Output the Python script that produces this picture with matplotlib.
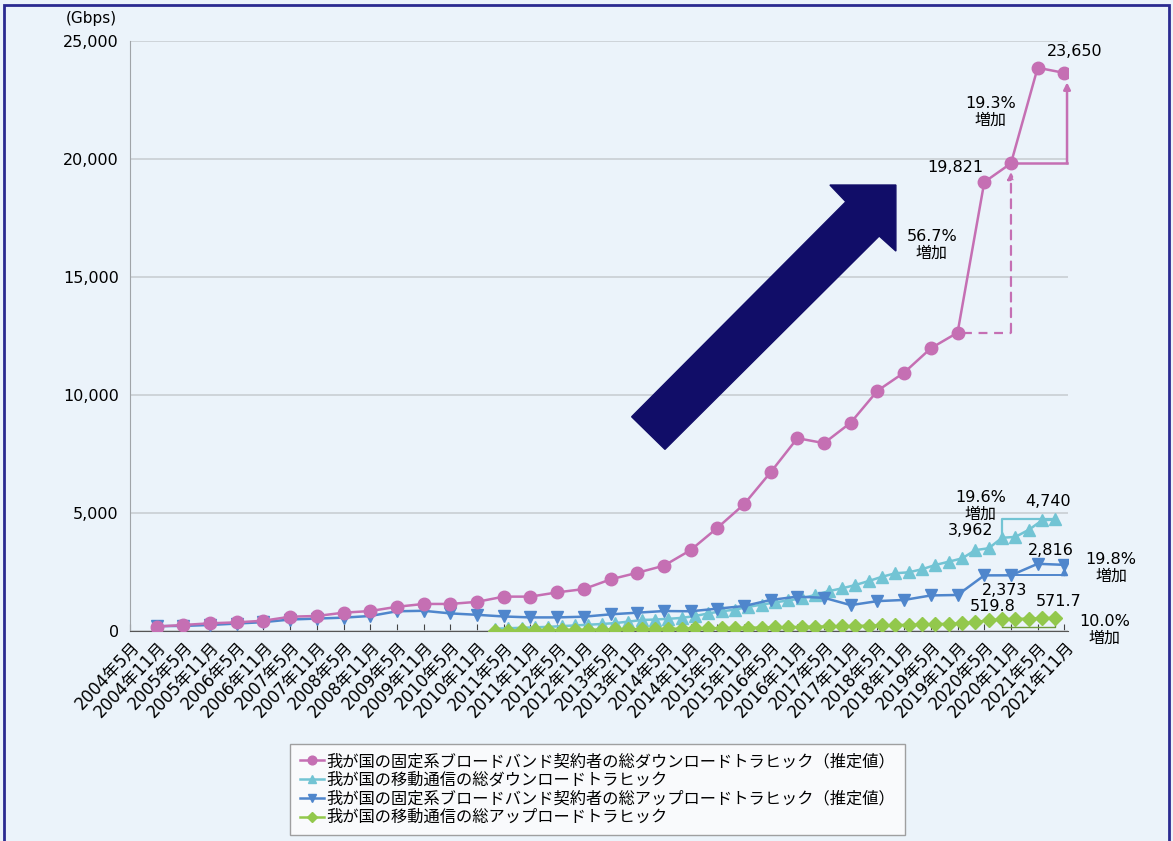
import matplotlib
matplotlib.use("Agg")
import matplotlib.pyplot as plt
from matplotlib.patches import Polygon, Rectangle

plt.rcParams['font.family'] = ['DejaVu Sans', 'Noto Sans CJK JP']

# 半年ごとの目盛ラベル (2004年5月〜2021年11月)
period_labels = [f"{y}年{m}月" for y in range(2004, 2022) for m in (5, 11)]

# 固定系ブロードバンド (2004年11月〜2021年11月, 半年ごと)
fixed_down = [200, 270, 340, 380, 450, 620, 650, 790, 860, 1040,
              1160, 1160, 1250, 1470, 1470, 1650, 1790, 2200, 2480, 2780,
              3440, 4380, 5380, 6740, 8180, 7970, 8840, 10190, 10960, 11990,
              12650, 19025, 19821, 23869, 23650]
fixed_up = [220, 230, 270, 330, 390, 500, 540, 580, 650, 850,
            870, 760, 700, 630, 590, 590, 620, 720, 790, 860,
            850, 960, 1070, 1330, 1470, 1420, 1110, 1280, 1330, 1520,
            1540, 2370, 2373, 2860, 2816]

# 移動通信 (2011年3月〜2021年9月, 四半期ごと)
mobile_months = [(y, m) for y in range(2011, 2022) for m in (3, 6, 9, 12)][:43]
mobile_down = [110, 130, 150, 170, 190, 220, 250, 280, 310, 350,
               410, 480, 500, 530, 570, 650, 760, 850, 920, 1040,
               1130, 1230, 1310, 1400, 1540, 1700, 1820, 1960, 2130, 2310,
               2460, 2500, 2630, 2810, 2950, 3090, 3440, 3520, 3962, 4000,
               4300, 4700, 4740]
mobile_up = [30, 35, 40, 46, 52, 58, 64, 70, 76, 82,
             88, 95, 101, 108, 115, 122, 130, 138, 146, 154,
             162, 170, 179, 188, 198, 208, 218, 229, 240, 252,
             264, 276, 290, 305, 320, 336, 400, 460, 519.8, 525,
             540, 555, 571.7]

series_names = [
    "我が国の固定系ブロードバンド契約者の総ダウンロードトラヒック（推定値）",
    "我が国の移動通信の総ダウンロードトラヒック",
    "我が国の固定系ブロードバンド契約者の総アップロードトラヒック（推定値）",
    "我が国の移動通信の総アップロードトラヒック",
]

PINK = '#c56fb3'
CYAN = '#72c4d4'
BLUE = '#4f86cc'
GREEN = '#92c84c'
BG = '#ebf3fa'

x_fixed = list(range(1, len(fixed_down) + 1))
x_mobile = [((y - 2004) * 12 + (m - 5)) / 6 for y, m in mobile_months]

fig = plt.figure(figsize=(11.73, 8.41), dpi=100, facecolor=BG)
ax = fig.add_axes([0.1108, 0.2493, 0.80, 0.7019])
ax.set_facecolor(BG)

ax.plot(x_fixed, fixed_down, color=PINK, marker='o', ms=9, lw=1.8, label=series_names[0], zorder=5)
ax.plot(x_mobile, mobile_down, color=CYAN, marker='^', ms=8.5, lw=1.8, label=series_names[1], zorder=4)
ax.plot(x_fixed, fixed_up, color=BLUE, marker='v', ms=9, lw=1.8, label=series_names[2], zorder=4.5)
ax.plot(x_mobile, mobile_up, color=GREEN, marker='D', ms=7, lw=1.8, label=series_names[3], zorder=4)

ax.set_xlim(0, 35.15)
ax.set_ylim(0, 25000)
ax.set_yticks(range(0, 25001, 5000))
ax.set_yticklabels([f"{v:,}" for v in range(0, 25001, 5000)], fontsize=11.5)
ax.grid(axis='y', color='#c9ced3', lw=1.2)
ax.set_axisbelow(True)
ax.tick_params(axis='y', length=0, pad=8)
ax.set_xticks(range(len(period_labels)))
ax.set_xticklabels(period_labels, rotation=47, ha='right', rotation_mode='anchor', fontsize=12)
ax.tick_params(axis='x', direction='in', length=5, color='#444', pad=5)
for s in ('top', 'right'):
    ax.spines[s].set_visible(False)
ax.spines['left'].set_color('#a0a4a8')
ax.spines['bottom'].set_color('#555')

fig.text(91 / 1173, 1 - 18 / 841, "(Gbps)", fontsize=11, ha='center', va='center')

# 増加率の矢印
ax.plot([31.2, 33], [fixed_down[30], fixed_down[30]], color=PINK, lw=1.6, ls=(0, (4, 3)), zorder=3)
ax.annotate("", xy=(33, 19450), xytext=(33, fixed_down[30]),
            arrowprops=dict(arrowstyle='-|>', color=PINK, lw=1.6, ls=(0, (4, 3)), shrinkA=0, shrinkB=0))
ax.plot([33, 35.1], [fixed_down[32], fixed_down[32]], color=PINK, lw=1.8, zorder=3, clip_on=False)
ax.annotate("", xy=(35.1, 23250), xytext=(35.1, fixed_down[32]),
            arrowprops=dict(arrowstyle='-|>', color=PINK, lw=1.8, shrinkA=0, shrinkB=0), annotation_clip=False)
ax.plot([x_mobile[38], x_mobile[38], x_mobile[42]], [mobile_down[38], mobile_down[42], mobile_down[42]],
        color=CYAN, lw=1.6, zorder=3)
ax.plot([33, 35], [fixed_up[32], fixed_up[32]], color=BLUE, lw=1.4, zorder=3)
ax.annotate("", xy=(35, 2700), xytext=(35, fixed_up[32]),
            arrowprops=dict(arrowstyle='-|>', color=BLUE, lw=1.4, shrinkA=0, shrinkB=0))
ax.plot([x_mobile[38], x_mobile[38], x_mobile[42], x_mobile[42]], [380, 200, 200, 380],
        color='#6e9a3a', lw=1.0, zorder=2)

txt = dict(fontsize=11.5, ha='center', va='center', linespacing=1.15, zorder=6)
ax.text(35.4, 24550, "23,650", **txt, clip_on=False)
ax.text(32.25, 22000, "19.3%\n増加", **txt)
ax.text(30.9, 19630, "19,821", **txt)
ax.text(30.04, 16370, "56.7%\n増加", **txt)
ax.text(31.87, 5300, "19.6%\n増加", **txt)
ax.text(34.4, 5490, "4,740", **txt)
ax.text(31.5, 4290, "3,962", **txt)
ax.text(34.5, 3440, "2,816", **txt)
ax.text(36.75, 2680, "19.8%\n増加", **txt, clip_on=False)
ax.text(32.77, 1750, "2,373", **txt)
ax.text(32.33, 1040, "519.8", **txt)
ax.text(34.77, 1250, "571.7", **txt)
ax.text(36.5, 50, "10.0%\n増加", **txt, clip_on=False)

# 右上がりの大きな矢印
arrow_pts = [(0.5346, 0.3635), (0.7629, 0.7278), (0.7459, 0.7561), (0.8162, 0.7561),
             (0.8162, 0.6442), (0.7984, 0.6697), (0.5701, 0.3083)]
ax.add_patch(Polygon(arrow_pts, closed=True, transform=ax.transAxes, color='#110d68', zorder=7))

leg = fig.legend(loc='lower left', bbox_to_anchor=(290 / 1173, 6 / 841), fontsize=11.7,
                 frameon=True, fancybox=False, edgecolor='#8a8a8a', facecolor='#fdfdfd',
                 handlelength=1.5, handletextpad=0.15, labelspacing=0.2, borderpad=0.6,
                 markerscale=0.7, borderaxespad=0)
leg.get_frame().set_linewidth(1.0)

fig.patches.append(Rectangle((0.003, -0.01), 0.994, 1.004, transform=fig.transFigure,
                             fill=False, edgecolor='#2a2a90', lw=2))

fig.savefig("out.png", dpi=100, facecolor=BG)
